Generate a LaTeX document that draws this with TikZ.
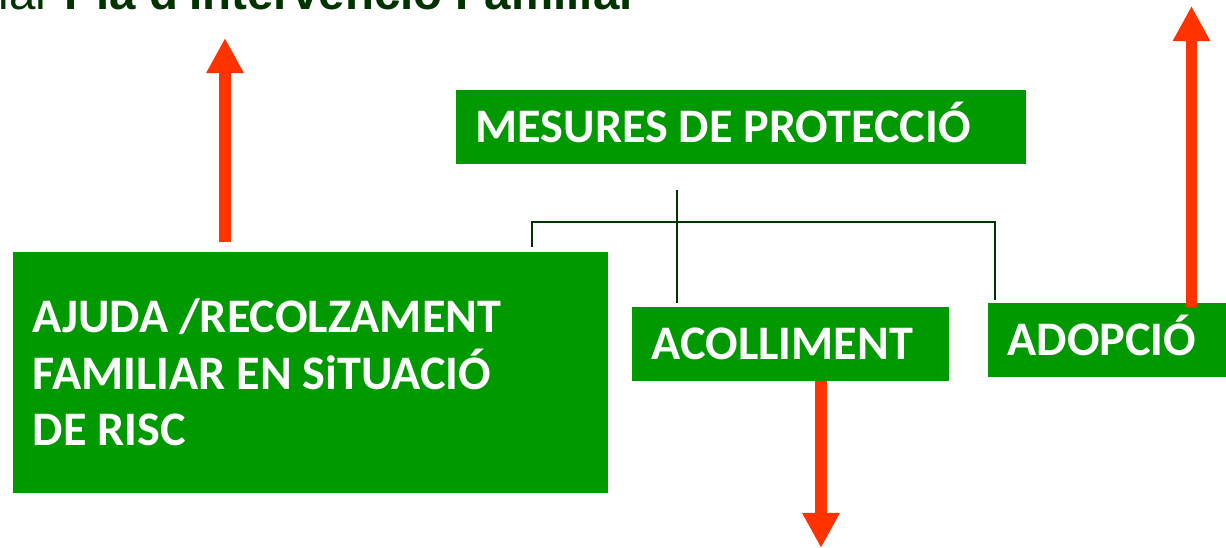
\documentclass[tikz,border=0pt]{standalone}
\usepackage{fontspec}
\setsansfont{Carlito}
\newfontfamily\titlefont{Liberation Sans}
\usepackage{xcolor}
\usetikzlibrary{arrows.meta, positioning}
\definecolor{boxgreen}{HTML}{009900}
\definecolor{darkgreen}{HTML}{003300}
\definecolor{arrowred}{HTML}{FF3300}

\begin{document}
\begin{tikzpicture}[x=0.01cm, y=-0.01cm,
    box/.style={fill=boxgreen, text=white, anchor=north west, align=left,
        inner xsep=0.2cm, inner ysep=0pt,
        font=\sffamily\bfseries\fontsize{13.7}{16.2}\selectfont,
        execute at begin node={\spaceskip=0.226em\relax}},
    onerow/.style={text height=0.53cm, text depth=0.21cm},
    tree/.style={draw=darkgreen, line width=0.6pt},
    bigarrow/.style={draw=arrowred, line width=3.4pt, -{Triangle[width=10pt, length=10pt]}}]
    \useasboundingbox (0,0) rectangle (1226,548);

    % title, cut off at the top
    \node[anchor=base west, inner sep=0pt, text=darkgreen,
        font=\titlefont\fontsize{13.5}{16}\selectfont] (title) at (-2,9)
        {lar \textbf{Pla d'Intervenció Familiar}};

    % boxes
    \node[box, onerow, text width=5.30cm] (mesures) at (455,89) {MESURES DE PROTECCIÓ};
    \node[box, text width=5.55cm, minimum height=2.41cm] (ajuda) at (12,251)
        {AJUDA /RECOLZAMENT\\FAMILIAR EN SiTUACIÓ\\DE RISC};
    \node[box, onerow, text width=2.775cm] (acolliment) at (631,306) {ACOLLIMENT};
    \node[box, onerow, text width=2.13cm] (adopcio) at (987,302) {ADOPCIÓ};

    % tree lines
    \coordinate (stem) at (677,190);
    \coordinate (forkL) at (532,222);
    \coordinate (forkR) at (995,222);
    \draw[tree, shorten >=0.9pt] (stem) -- (stem |- acolliment.north);
    \draw[tree, shorten <=1.1pt, shorten >=0.5pt]
        (forkL |- ajuda.north) -- (forkL) -- (forkR) -- (forkR |- adopcio.north);

    % red arrows
    \coordinate (upL) at (225,38);
    \coordinate (upR) at (1191.5,6);
    \coordinate (down) at (821,548);
    \draw[bigarrow, shorten <=2.5pt] (ajuda.north -| upL) -- (upL);
    \draw[bigarrow, shorten <=-1.4pt] (adopcio.north -| upR) -- (upR);
    \draw[bigarrow] (acolliment.south -| down) -- (down);
\end{tikzpicture}
\end{document}
